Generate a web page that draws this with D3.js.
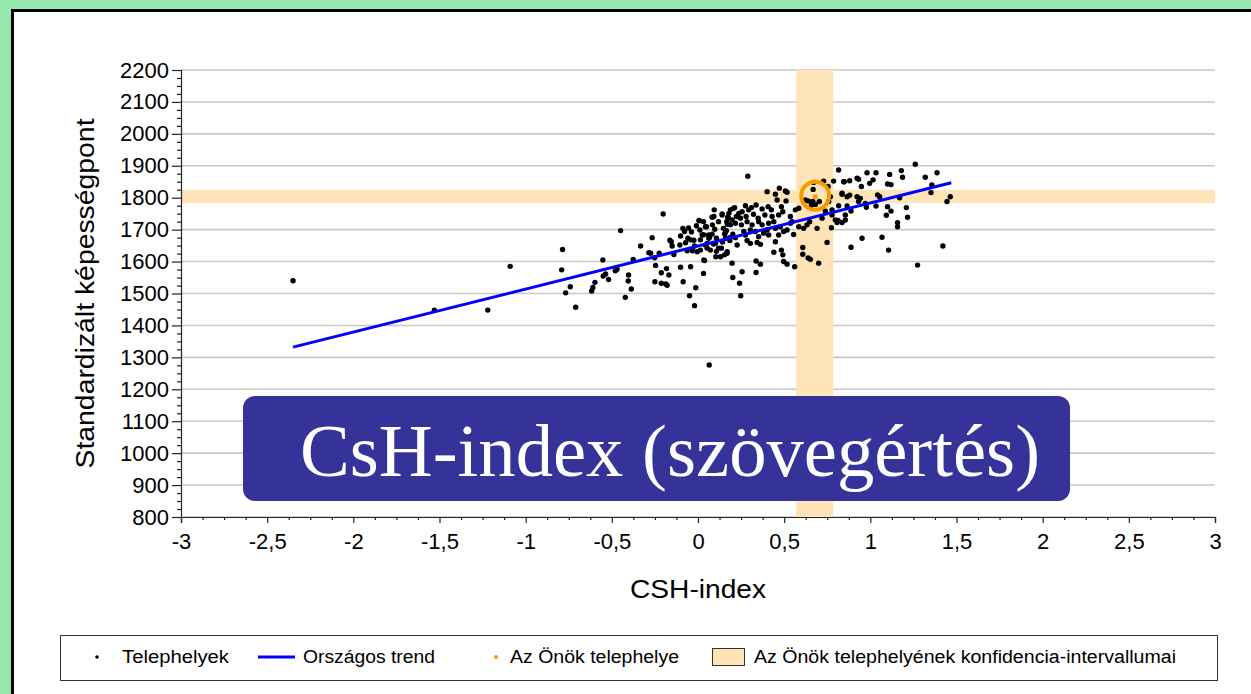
<!DOCTYPE html>
<html><head><meta charset="utf-8">
<script src="https://cdn.jsdelivr.net/npm/d3@7"></script>
<style>body{margin:0;background:#98e6b0;overflow:hidden} svg{display:block}</style>
</head><body><svg id="c" width="1251" height="694"></svg>
<script>
// ---- data ----
const xTicks = [-3, -2.5, -2, -1.5, -1, -0.5, 0, 0.5, 1, 1.5, 2, 2.5, 3];
const yTicks = [800, 900, 1000, 1100, 1200, 1300, 1400, 1500, 1600, 1700, 1800, 1900, 2000, 2100, 2200];
const xLabel = "CSH-index";
const yLabel = "Standardizált képességpont";
const titleText = "CsH-index (szövegértés)";
const legendLabels = ["Telephelyek", "Országos trend", "Az Önök telephelye", "Az Önök telephelyének konfidencia-intervallumai"];

// Telephelyek (sites): CSH-index and standardized score
const siteX = [
 -2.35,-1.53,-1.22,-1.09,
 -0.786,-0.791,-0.741,-0.768,-0.71,
 -0.552,-0.598,-0.61,-0.617,-0.55,-0.536,-0.519,
 -0.48,-0.47,-0.449,-0.422,-0.403,-0.405,-0.387,-0.376,-0.333,-0.285,-0.275,-0.266,-0.246,-0.252,-0.225,-0.202,-0.213,-0.183,-0.169,-0.25,-0.213,-0.187,-0.179,-0.163,-0.155,-0.15,-0.14,-0.105,-0.101,-0.088,-0.078,-0.101,-0.059,-0.072,-0.063,-0.043,-0.086,-0.049,-0.013,-0.02,-0.032,-0.005,
 0.009,0.011,0.014,0.032,0.049,0.053,0.032,0.038,0.067,0.082,0.094,0.082,0.097,0.101,0.107,0.103,0.13,0.154,0.169,0.136,0.14,0.173,0.165,0.155,0.185,0.065,
 0.289,0.179,0.213,0.237,0.275,0.279,0.294,0.31,0.337,0.322,0.349,0.372,0.401,0.407,0.426,0.449,0.459,0.472,0.484,0.507,0.517,0.511,0.492,0.468,0.536,0.546,0.565,0.555,0.585,0.585,0.613,0.633,0.648,0.623,0.668,0.639,0.658,0.681,0.704,0.666,0.608,0.608,0.639,0.652,0.7,0.561,0.671,0.729,0.755,0.787,0.816,0.768,0.758,0.739,0.72,0.691,0.774,0.749,0.816,0.836,0.845,0.813,0.198,0.202,0.241,0.248,0.256,0.337,0.362,0.337,0.44,0.449,0.484,0.492,0.497,0.517,0.285,0.304,0.343,0.362,0.169,0.227,0.183,
 0.159,0.175,0.167,0.188,0.202,0.217,0.266,0.252,0.217,0.198,0.246,0.285,0.314,0.352,0.372,0.401,0.41,0.44,0.449,0.478,0.497,0.517,0.536,0.381,0.333,0.352,0.43,0.388,0.256,0.188,0.41,0.468,0.275,0.304,
 0.043,0.072,0.09,0.119,0.142,0.159,0.084,0.119,0.032,-0.009,-0.038,0.061,0.107,0.148,0.171,-0.043,0.014,-0.02,-0.055,
 -0.024,0.005,0.024,0.043,0.063,0.092,0.14,0.207,0.223,0.034,0.053,
 1.261,1.387,1.319,1.357,1.352,1.464,1.445,1.421,1.274,1.18,1.187,1.112,1.1,1.12,1.17,1.209,1.216,1.158,1.158,1.1,1.12,1.093,1.106,1.068,0.952,0.888,1.033,0.981,1.016,0.996,1.042,1.054,1.033,0.932,0.948,0.88,0.849,0.836,0.865,0.88,0.923,0.942,0.932,0.971,0.977,0.865,0.888,0.855,0.855,0.836,0.923,
 0.778,0.778,0.797,0.807
];
const siteY = [
 1540,1448,1448,1585,
 1638,1574,1521,1502,1457,
 1605,1535,1519,1508,1555,1561,1544,
 1571,1576,1697,1488,1558,1539,1514,1607,1649,1628,1626,1675,1588,1612,1626,1749,1565,1578,1558,1537,1532,1530,1526,1667,1662,1649,1622,1652,1582,1704,1694,1680,1673,1659,1634,1584,1537,1493,1518,1462,1634,1631,
 1728,1699,1636,1684,1709,1657,1563,1603,1676,1739,1762,1686,1701,1657,1632,1615,1615,1621,1631,1642,1749,1739,1697,1686,1666,1276,
 1867,1751,1769,1751,1775,1741,1762,1769,1777,1748,1736,1765,1819,1772,1762,1811,1793,1830,1772,1821,1817,1790,1756,1746,1741,1725,1762,1685,1767,1709,1704,1715,1725,1793,1826,1790,1777,1779,1788,1788,1644,1623,1611,1607,1595,1584,1848,1852,1835,1852,1887,1803,1788,1758,1736,1704,1706,1660,1775,1811,1850,1729,1595,1550,1532,1493,1568,1602,1592,1566,1629,1662,1636,1621,1600,1592,1666,1657,1660,1654,1626,1652,1675,
 1692,1738,1725,1715,1686,1675,1694,1715,1720,1730,1736,1725,1715,1725,1715,1699,1720,1725,1704,1709,1694,1699,1720,1689,1694,1678,1741,1746,1756,1762,1683,1683,1683,1699,
 1652,1636,1655,1642,1661,1673,1715,1725,1725,1712,1693,1683,1673,1704,1717,1668,1668,1649,1705,
 1667,1729,1683,1709,1673,1741,1746,1767,1741,1605,1642,
 1905,1878,1864,1840,1816,1803,1788,1649,1589,1885,1864,1873,1843,1841,1800,1769,1739,1722,1709,1772,1758,1745,1636,1676,1673,1645,1878,1878,1856,1845,1809,1803,1774,1858,1835,1853,1850,1814,1803,1808,1803,1798,1788,1782,1770,1774,1758,1746,1730,1722,1861,
 1762,1746,1730,1722
];
// Országos trend
const trendX = [-2.35, 1.47];
const trendY = [1332, 1847];
// Az Önök telephelye
const ownX = [0.68];
const ownY = [1803];
// konfidencia-intervallum
const ciX = [0.57, 0.785];
const ciY = [1783, 1824];

// ---- chart ----
const svg = d3.select("#c");
const W = 1251, H = 694;
const x = d3.scaleLinear().domain([-3, 3]).range([181, 1215]);
const y = d3.scaleLinear().domain([800, 2200]).range([517, 70]);
const fmt = d => String(d).replace(".", ",");
const FONT = "Liberation Sans, Arial, sans-serif";

// frame
svg.append("rect").attr("x", 0).attr("y", 0).attr("width", W).attr("height", H).attr("fill", "#98e6b0");
svg.append("rect").attr("x", 12.5).attr("y", 10.5).attr("width", 1300).attr("height", 800)
  .attr("fill", "#fff").attr("stroke", "#000").attr("stroke-width", 3);

// gridlines
svg.append("g").selectAll("line").data(yTicks).join("line")
  .attr("x1", x(-3)).attr("x2", x(3)).attr("y1", d => y(d)).attr("y2", d => y(d))
  .attr("stroke", "#c8c8c8").attr("stroke-width", 1.6);

// confidence bands
const bandColor = "#ffe4b8";
svg.append("rect").attr("x", x(-3)).attr("width", x(3) - x(-3))
  .attr("y", y(ciY[1])).attr("height", y(ciY[0]) - y(ciY[1])).attr("fill", bandColor);
svg.append("rect").attr("x", x(ciX[0])).attr("width", x(ciX[1]) - x(ciX[0]))
  .attr("y", y(2200)).attr("height", y(800) - y(2200)).attr("fill", bandColor);

// axes
const minorY = d3.range(800, 2201, 25).filter(v => v % 100 !== 0);
const minorX = d3.range(-3, 3.0001, 0.125).filter(v => Math.abs(v * 2 - Math.round(v * 2)) > 1e-6);

svg.append("g").attr("transform", `translate(${x(-3)},0)`)
  .call(d3.axisLeft(y).tickValues(yTicks).tickSize(9).tickPadding(3).tickFormat(fmt));
svg.append("g").attr("transform", `translate(${x(-3)},0)`)
  .call(d3.axisLeft(y).tickValues(minorY).tickSize(4).tickFormat(""))
  .call(g => g.select(".domain").remove());
svg.append("g").attr("transform", `translate(0,${y(800)})`)
  .call(d3.axisBottom(x).tickValues(xTicks).tickSize(6).tickPadding(10).tickFormat(fmt));
svg.append("g").attr("transform", `translate(0,${y(800)})`)
  .call(d3.axisBottom(x).tickValues(minorX).tickSize(3).tickFormat(""))
  .call(g => g.select(".domain").remove());
svg.selectAll(".tick line, .domain").attr("stroke", "#222").attr("stroke-width", 1.2);
svg.selectAll(".tick text").attr("font-family", FONT).attr("font-size", 22).attr("fill", "#000");

// axis titles
svg.append("text").attr("x", x(0)).attr("y", 598).attr("text-anchor", "middle")
  .attr("font-family", FONT).attr("font-size", 25)
  .attr("textLength", 136).attr("lengthAdjust", "spacingAndGlyphs").text(xLabel);
svg.append("text").attr("transform", `translate(94,${(y(800) + y(2200)) / 2}) rotate(-90)`)
  .attr("text-anchor", "middle").attr("font-family", FONT).attr("font-size", 25)
  .attr("textLength", 350).attr("lengthAdjust", "spacingAndGlyphs").text(yLabel);

// points
svg.append("g").selectAll("circle").data(d3.range(siteX.length)).join("circle")
  .attr("cx", i => x(siteX[i])).attr("cy", i => y(siteY[i])).attr("r", 2.7).attr("fill", "#000");

// trend
const line = d3.line().x(i => x(trendX[i])).y(i => y(trendY[i]));
svg.append("path").attr("d", line(d3.range(trendX.length))).attr("stroke", "#0000ff")
  .attr("stroke-width", 3).attr("fill", "none");

// own site
svg.append("circle").attr("cx", x(ownX[0])).attr("cy", y(ownY[0])).attr("r", 2.5).attr("fill", "#f59b00");
svg.append("circle").attr("cx", x(ownX[0])).attr("cy", y(ownY[0]) - 1).attr("r", 14)
  .attr("fill", "none").attr("stroke", "#f59b00").attr("stroke-width", 4);

// title box
svg.append("rect").attr("x", 243).attr("y", 396).attr("width", 827).attr("height", 105)
  .attr("rx", 12).attr("fill", "#353399");
svg.append("text").attr("x", 300).attr("y", 476).attr("font-family", "Liberation Serif, Times New Roman, serif")
  .attr("font-size", 75).attr("fill", "#fff")
  .attr("textLength", 740).attr("lengthAdjust", "spacingAndGlyphs").text(titleText);

// legend
const lg = svg.append("g");
lg.append("rect").attr("x", 60.5).attr("y", 635.5).attr("width", 1157).attr("height", 45)
  .attr("fill", "#fff").attr("stroke", "#333").attr("stroke-width", 1);
const ly = 657;
lg.append("circle").attr("cx", 97).attr("cy", ly).attr("r", 1.8).attr("fill", "#000");
lg.append("line").attr("x1", 258).attr("x2", 295).attr("y1", ly).attr("y2", ly).attr("stroke", "#0000ff").attr("stroke-width", 3);
lg.append("circle").attr("cx", 496).attr("cy", ly).attr("r", 2).attr("fill", "#f59b00");
lg.append("rect").attr("x", 712.5).attr("y", 648.5).attr("width", 32).attr("height", 17).attr("fill", bandColor).attr("stroke", "#333").attr("stroke-width", 1);
const lx = [122, 303, 510, 754];
const lw = [107, 132, 169, 422];
lg.selectAll("text.l").data(legendLabels).join("text").attr("class", "l")
  .attr("x", (d, i) => lx[i]).attr("y", ly + 6).attr("font-family", FONT).attr("font-size", 18)
  .attr("textLength", (d, i) => lw[i]).attr("lengthAdjust", "spacingAndGlyphs").text(d => d);
</script></body></html>
